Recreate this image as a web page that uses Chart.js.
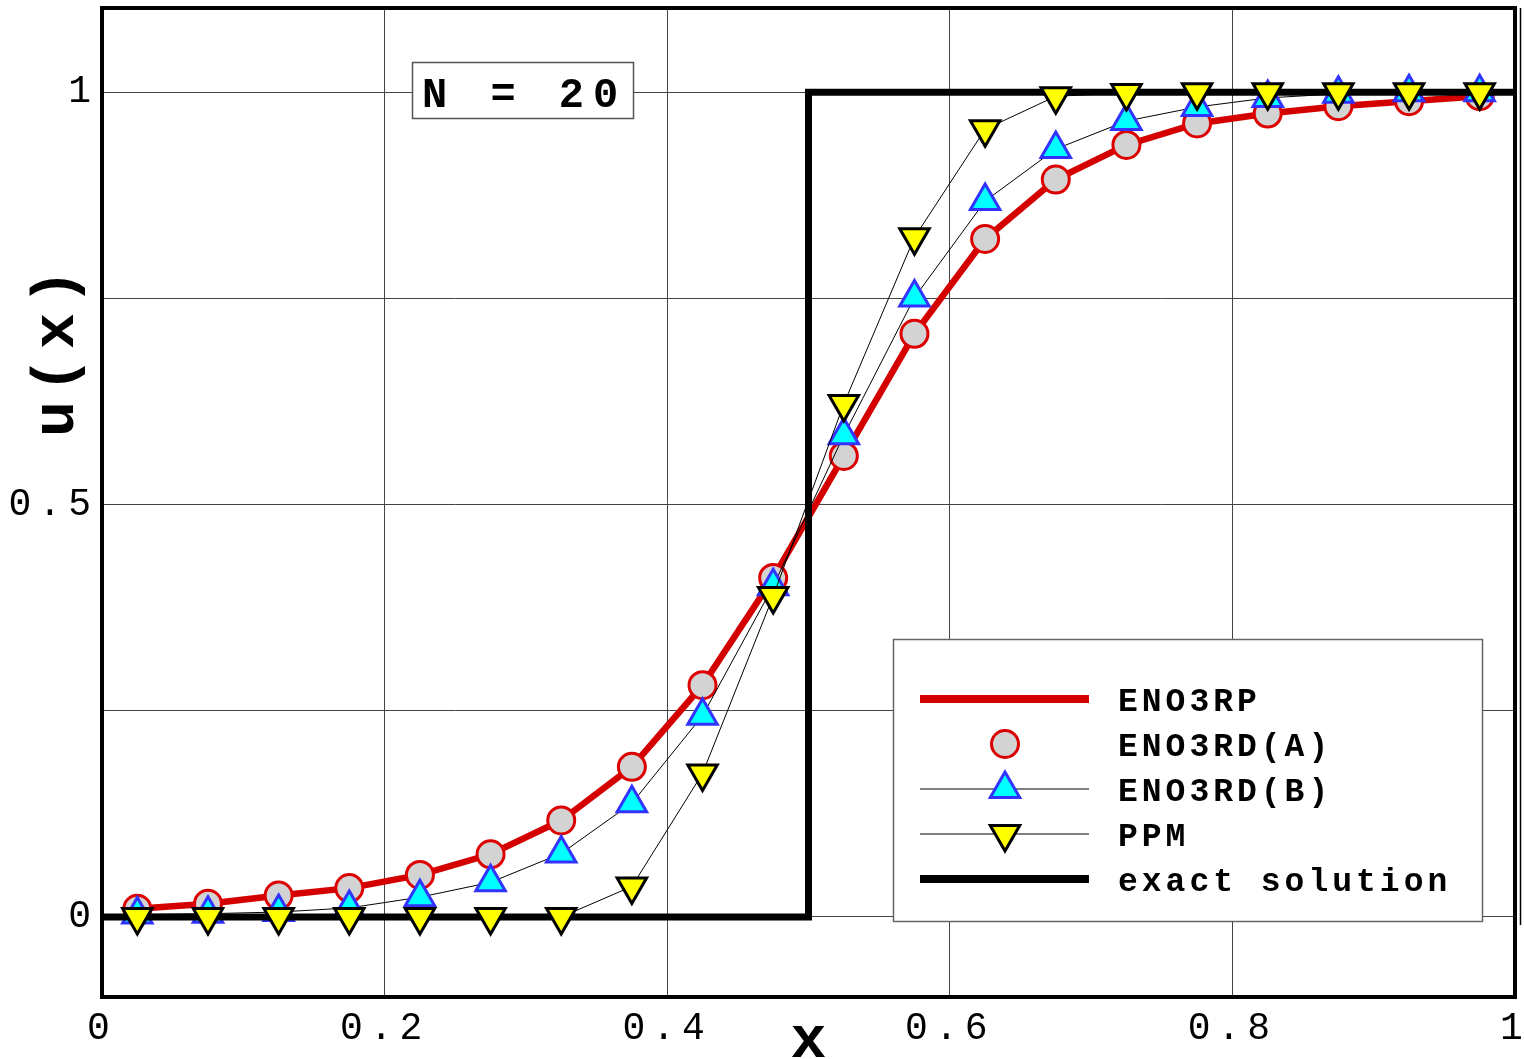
<!DOCTYPE html>
<html><head><meta charset="utf-8">
<script src="https://cdn.jsdelivr.net/npm/chart.js@4"></script>
<style>html,body{margin:0;padding:0;background:#fff;overflow:hidden}</style>
</head><body>
<canvas id="c" width="1524" height="1059"></canvas>
<script>
// ---- data ----
const xCells = [0.025,0.075,0.125,0.175,0.225,0.275,0.325,0.375,0.425,0.475,0.525,0.575,0.625,0.675,0.725,0.775,0.825,0.875,0.925,0.975];
const eno3rp  = [0.010,0.016,0.026,0.035,0.051,0.076,0.117,0.182,0.281,0.411,0.559,0.707,0.822,0.894,0.936,0.962,0.974,0.983,0.989,0.995];
const eno3rdA = [0.010,0.016,0.026,0.035,0.051,0.076,0.117,0.182,0.281,0.411,0.559,0.707,0.822,0.894,0.936,0.962,0.974,0.983,0.989,0.995];
const eno3rdB = [0.003,0.004,0.006,0.011,0.024,0.042,0.077,0.138,0.244,0.401,0.584,0.751,0.868,0.931,0.965,0.982,0.993,0.998,1.000,1.000];
const ppm     = [0.000,0.000,0.000,0.000,0.000,0.000,0.000,0.037,0.174,0.389,0.622,0.824,0.955,0.995,0.999,1.000,1.000,1.000,1.000,1.000];
const exactX  = [0, 0.5, 0.5, 1];
const exactU  = [0, 0, 1, 1];
const xTickValues = [0, 0.2, 0.4, 0.6, 0.8, 1];
const xTickLabels = ['0', '0.2', '0.4', '0.6', '0.8', '1'];
const yTickValues = [0, 0.25, 0.5, 0.75, 1];
const yTickLabels = ['0', '', '0.5', '', '1'];
const seriesNames = ['ENO3RP', 'ENO3RD(A)', 'ENO3RD(B)', 'PPM', 'exact solution'];
const annotationText = 'N = 20';
const xTitle = 'x';
const yTitle = 'u(x)';

const pts = (xs, ys) => xs.map((x, i) => ({x: x, y: ys[i]}));
const MONO = '"Liberation Mono", "DejaVu Sans Mono", monospace';

const dsRP = {label: seriesNames[0], data: pts(xCells, eno3rp), showLine: true, borderColor: '#d40000', borderWidth: 6.5, pointRadius: 0, order: 4};
const dsA  = {label: seriesNames[1], data: pts(xCells, eno3rdA), showLine: false, pointStyle: 'circle', pointRadius: 13.5, pointBackgroundColor: '#d3d3d3', pointBorderColor: '#dd0000', pointBorderWidth: 3, order: 3};
const dsB  = {label: seriesNames[2], data: pts(xCells, eno3rdB), showLine: true, borderColor: '#000', borderWidth: 1, pointStyle: 'triangle', pointRadius: 17, pointBackgroundColor: '#00ffff', pointBorderColor: '#3333ff', pointBorderWidth: 3, order: 2};
const dsP  = {label: seriesNames[3], data: pts(xCells, ppm), showLine: true, borderColor: '#000', borderWidth: 1, pointStyle: 'triangle', pointRotation: 180, pointRadius: 17, pointBackgroundColor: '#ffff00', pointBorderColor: '#000', pointBorderWidth: 3, order: 0};
const dsE  = {label: seriesNames[4], data: pts(exactX, exactU), showLine: true, borderColor: '#000', borderWidth: 7, borderJoinStyle: 'miter', pointRadius: 0, order: 1};

const legendRows = [
  {ds: dsRP, line: 'thick'},
  {ds: dsA,  line: 'none', marker: true},
  {ds: dsB,  line: 'thin', marker: true},
  {ds: dsP,  line: 'thin', marker: true},
  {ds: dsE,  line: 'thick'}
];

const decor = {
  id: 'decor',
  beforeDraw(chart) { chart.ctx.letterSpacing = '7px'; },
  afterDatasetsDraw(chart) {
    const ctx = chart.ctx;
    ctx.save();
    // N = 20 box
    ctx.fillStyle = '#fff'; ctx.fillRect(412, 62, 222, 57);
    ctx.strokeStyle = '#555'; ctx.lineWidth = 1.5; ctx.strokeRect(412.5, 62.5, 221, 56);
    ctx.fillStyle = '#000'; ctx.font = 'bold 42px ' + MONO; ctx.letterSpacing = '9px';
    ctx.textAlign = 'left'; ctx.textBaseline = 'alphabetic';
    ctx.fillText(annotationText, 422, 107);
    // legend box
    ctx.fillStyle = '#fff'; ctx.fillRect(893, 639, 590, 283);
    ctx.strokeStyle = '#666'; ctx.lineWidth = 1.5; ctx.strokeRect(893.5, 639.5, 589, 282);
    legendRows.forEach((r, i) => {
      const y = 699 + i * 45;
      const ds = r.ds;
      if (r.line !== 'none') {
        ctx.beginPath(); ctx.moveTo(920, y); ctx.lineTo(1089, y);
        ctx.strokeStyle = ds.borderColor; ctx.lineWidth = r.line === 'thick' ? 8 : 1; ctx.lineCap = 'butt';
        ctx.stroke();
      }
      if (r.marker) {
        ctx.fillStyle = ds.pointBackgroundColor; ctx.strokeStyle = ds.pointBorderColor; ctx.lineWidth = ds.pointBorderWidth;
        Chart.helpers.drawPoint(ctx, {pointStyle: ds.pointStyle, rotation: ds.pointRotation || 0, radius: ds.pointRadius, borderWidth: ds.pointBorderWidth}, 1005, y);
      }
      ctx.fillStyle = '#000'; ctx.font = 'bold 33px ' + MONO; ctx.letterSpacing = '4px';
      ctx.textAlign = 'left'; ctx.textBaseline = 'alphabetic';
      ctx.fillText(ds.label, 1118, y + 12);
    });
    ctx.restore();
  },
  afterDraw(chart) {
    const ctx = chart.ctx; const a = chart.chartArea;
    ctx.save();
    ctx.strokeStyle = '#000'; ctx.lineWidth = 4;
    ctx.strokeRect(a.left, a.top, a.right - a.left, a.bottom - a.top);
    ctx.lineWidth = 1.5; ctx.beginPath(); ctx.moveTo(1520.5, 8); ctx.lineTo(1520.5, 925); ctx.stroke();
    // axis titles
    ctx.fillStyle = '#000'; ctx.font = 'bold 60px ' + MONO; ctx.letterSpacing = '8px';
    ctx.textAlign = 'center'; ctx.textBaseline = 'alphabetic';
    ctx.fillText(xTitle, (a.left + a.right) / 2 + 4, 1057);
    ctx.translate(73, 353); ctx.rotate(-Math.PI / 2);
    ctx.fillText(yTitle, 4, 0);
    ctx.restore();
  }
};

new Chart(document.getElementById('c'), {
  type: 'scatter',
  data: {datasets: [dsP, dsE, dsB, dsA, dsRP]},
  plugins: [decor],
  options: {
    responsive: false, animation: false, events: [],
    layout: {padding: {top: 8, right: 9, left: 0, bottom: 0}, autoPadding: false},
    plugins: {legend: {display: false}, tooltip: {enabled: false}},
    scales: {
      x: {
        type: 'linear', min: 0, max: 1,
        afterBuildTicks: s => { s.ticks = xTickValues.map(v => ({value: v})); },
        afterFit: s => { s.height = 62; s.paddingLeft = 0; s.paddingRight = 0; },
        ticks: {callback: (v, i) => xTickLabels[i], font: {family: MONO, size: 38}, color: '#000', padding: 9, maxRotation: 0, autoSkip: false},
        grid: {color: '#444', lineWidth: 1, drawTicks: false},
        border: {display: false}
      },
      y: {
        type: 'linear', min: -0.097, max: 1.102,
        afterBuildTicks: s => { s.ticks = yTickValues.map(v => ({value: v})); },
        afterFit: s => { s.width = 102; s.paddingTop = 0; s.paddingBottom = 0; },
        ticks: {callback: (v, i) => yTickLabels[i], font: {family: MONO, size: 38}, color: '#000', padding: 4, autoSkip: false},
        grid: {color: '#444', lineWidth: 1, drawTicks: false},
        border: {display: false}
      }
    }
  }
});
</script>
</body></html>
